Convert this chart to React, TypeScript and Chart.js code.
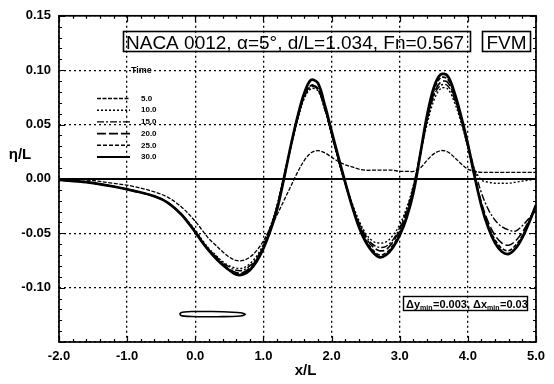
import React, { useEffect, useRef } from "react";
import { Chart, registerables } from "chart.js";

Chart.register(...registerables);

// ---------- data ----------
const X_GRID = [
  -2.0, -1.6, -1.2, -0.9, -0.6, -0.4, -0.2,
  0.0, 0.1, 0.2, 0.3, 0.4, 0.5, 0.6, 0.7, 0.8, 0.9,
  1.0, 1.1, 1.2, 1.3, 1.4, 1.5, 1.6, 1.7, 1.8, 1.9,
  2.0, 2.1, 2.2, 2.3, 2.4, 2.5, 2.6, 2.7, 2.8, 2.9,
  3.0, 3.1, 3.2, 3.3, 3.4, 3.5, 3.6, 3.7, 3.8, 3.9,
  4.0, 4.1, 4.2, 4.3, 4.4, 4.5, 4.6, 4.7, 4.8, 4.9, 5.0,
];

const TIME_LABELS = ["5.0", "10.0", "15.0", "20.0", "25.0", "30.0"];

const T5 = [
  0.0, -0.001, -0.004, -0.007, -0.012, -0.017, -0.026,
  -0.039, -0.047, -0.055, -0.061, -0.067, -0.072, -0.075, -0.075, -0.072, -0.066,
  -0.057, -0.045, -0.033, -0.02, -0.007, 0.006, 0.017, 0.024, 0.026, 0.024,
  0.02, 0.016, 0.013, 0.011, 0.009, 0.008, 0.008, 0.008, 0.008, 0.008,
  0.007, 0.007, 0.007, 0.01, 0.017, 0.023, 0.026, 0.025, 0.02, 0.014,
  0.009, 0.007, 0.006, 0.006, 0.006, 0.006, 0.006, 0.006, 0.006, 0.006, 0.006,
];
const T10 = [
  -0.001, -0.003, -0.007, -0.011, -0.016, -0.022, -0.033,
  -0.047, -0.056, -0.064, -0.07, -0.076, -0.08, -0.082, -0.082, -0.078, -0.071,
  -0.06, -0.044, -0.024, 0.003, 0.03, 0.055, 0.074, 0.083, 0.081, 0.064,
  0.041, 0.018, -0.004, -0.022, -0.038, -0.05, -0.057, -0.059, -0.058, -0.052,
  -0.042, -0.027, -0.006, 0.022, 0.05, 0.072, 0.083, 0.083, 0.071, 0.052,
  0.029, 0.009, -0.001, -0.003, -0.004, -0.004, -0.004, -0.003, -0.002, -0.001, 0.0,
];
const T15 = [
  -0.001, -0.003, -0.007, -0.011, -0.016, -0.022, -0.033,
  -0.048, -0.057, -0.065, -0.071, -0.077, -0.081, -0.084, -0.084, -0.08, -0.073,
  -0.061, -0.045, -0.025, 0.002, 0.029, 0.055, 0.075, 0.085, 0.082, 0.064,
  0.041, 0.017, -0.005, -0.024, -0.04, -0.052, -0.06, -0.063, -0.062, -0.056,
  -0.045, -0.029, -0.007, 0.023, 0.053, 0.076, 0.086, 0.086, 0.074, 0.055,
  0.032, 0.008, -0.013, -0.028, -0.038, -0.044, -0.047, -0.048, -0.043, -0.036, -0.029,
];
const T20 = [
  -0.001, -0.003, -0.007, -0.011, -0.016, -0.022, -0.033,
  -0.049, -0.058, -0.066, -0.072, -0.078, -0.083, -0.086, -0.086, -0.082, -0.074,
  -0.062, -0.046, -0.026, 0.001, 0.029, 0.055, 0.076, 0.086, 0.083, 0.065,
  0.042, 0.018, -0.004, -0.024, -0.041, -0.054, -0.062, -0.066, -0.065, -0.058,
  -0.047, -0.031, -0.009, 0.022, 0.054, 0.078, 0.089, 0.089, 0.076, 0.055,
  0.03, 0.003, -0.022, -0.04, -0.052, -0.059, -0.061, -0.057, -0.049, -0.038, -0.025,
];
const T25 = [
  -0.001, -0.003, -0.007, -0.011, -0.016, -0.022, -0.033,
  -0.049, -0.058, -0.066, -0.073, -0.079, -0.084, -0.087, -0.087, -0.083, -0.075,
  -0.063, -0.047, -0.027, 0.0, 0.029, 0.055, 0.076, 0.086, 0.083, 0.065,
  0.042, 0.019, -0.003, -0.024, -0.042, -0.056, -0.065, -0.07, -0.068, -0.061,
  -0.05, -0.034, -0.011, 0.022, 0.056, 0.081, 0.093, 0.092, 0.078, 0.056,
  0.031, 0.002, -0.024, -0.043, -0.056, -0.064, -0.066, -0.061, -0.052, -0.039, -0.024,
];
const T30 = [
  -0.001, -0.003, -0.007, -0.011, -0.016, -0.022, -0.033,
  -0.049, -0.058, -0.066, -0.073, -0.079, -0.084, -0.088, -0.088, -0.084, -0.076,
  -0.064, -0.048, -0.028, 0.0, 0.03, 0.057, 0.079, 0.091, 0.088, 0.068,
  0.044, 0.02, -0.003, -0.025, -0.044, -0.058, -0.067, -0.072, -0.07, -0.063,
  -0.052, -0.036, -0.013, 0.022, 0.058, 0.084, 0.096, 0.095, 0.08, 0.058,
  0.032, 0.002, -0.025, -0.045, -0.059, -0.067, -0.069, -0.064, -0.054, -0.04, -0.024,
];

// hydrofoil outline (flat elongated section drawn under the plot)
const FOIL_X = [-0.23, -0.21, -0.16, -0.05, 0.1, 0.25, 0.4, 0.55, 0.66, 0.71, 0.73];
const FOIL_UP = [-0.1243, -0.1230, -0.1224, -0.1220, -0.1219, -0.1220, -0.1222, -0.1226, -0.1231, -0.1237, -0.1245];
const FOIL_LO = [-0.1243, -0.1256, -0.1262, -0.1266, -0.1268, -0.1268, -0.1267, -0.1265, -0.1261, -0.1255, -0.1245];

const X_TICKS = [-2, -1, 0, 1, 2, 3, 4, 5];
const Y_TICKS = [-0.15, -0.1, -0.05, 0, 0.05, 0.1, 0.15];
const Y_LABELED = [-0.1, -0.05, 0, 0.05, 0.1, 0.15];

const TITLE = "NACA 0012, \u03b1=5\u00b0, d/L=1.034, Fn=0.567";
const METHOD = "FVM";

// ---------- styles ----------
const SERIES = [T5, T10, T15, T20, T25, T30];
const STYLES = [
  { dash: [4, 1.5], width: 1.3 },
  { dash: [2, 2], width: 1.4 },
  { dash: [7, 2, 2, 2], width: 1.4 },
  { dash: [9, 3], width: 1.6 },
  { dash: [4, 2], width: 1.6 },
  { dash: [], width: 2.7 },
];
const FONT = "'Liberation Sans', Arial, sans-serif";

const decor = {
  id: "decor",
  afterDraw(chart: any) {
    const { ctx, chartArea: a, scales } = chart;
    const xs = scales.x;
    const ys = scales.y;
    ctx.save();
    ctx.strokeStyle = "#000";
    ctx.fillStyle = "#000";
    ctx.setLineDash([]);
    // frame
    ctx.lineWidth = 1.7;
    ctx.strokeRect(a.left, a.top, a.right - a.left, a.bottom - a.top);
    // minor / major tick marks (inward)
    ctx.lineWidth = 1.2;
    ctx.beginPath();
    for (let k = -20; k <= 50; k += 2) {
      const px = Math.round(xs.getPixelForValue(k / 10)) + 0.5;
      const len = k % 10 === 0 ? 6 : 3;
      ctx.moveTo(px, a.bottom);
      ctx.lineTo(px, a.bottom - len);
      ctx.moveTo(px, a.top);
      ctx.lineTo(px, a.top + len);
    }
    for (let k = -15; k <= 15; k++) {
      const py = Math.round(ys.getPixelForValue(k / 100)) + 0.5;
      const len = k % 5 === 0 ? 6 : 3;
      ctx.moveTo(a.left, py);
      ctx.lineTo(a.left + len, py);
      ctx.moveTo(a.right, py);
      ctx.lineTo(a.right - len, py);
    }
    ctx.stroke();

    // title box
    ctx.lineWidth = 1.6;
    ctx.strokeRect(123.5, 31.5, 347, 20);
    ctx.font = `19px ${FONT}`;
    ctx.textBaseline = "alphabetic";
    ctx.textAlign = "left";
    ctx.fillText(TITLE, 126, 48.5, 342);
    ctx.strokeRect(482.5, 31.5, 48, 20);
    ctx.textAlign = "center";
    ctx.fillText(METHOD, 506.5, 48.5, 44);

    // grid spacing box
    ctx.lineWidth = 1.4;
    ctx.strokeRect(403.5, 296.5, 124, 14);
    ctx.textAlign = "left";
    const parts: [string, boolean][] = [
      ["\u0394y", false], ["min", true], ["=0.003, \u0394x", false], ["min", true], ["=0.03", false],
    ];
    let tx = 406;
    for (const [s, sub] of parts) {
      ctx.font = sub ? `bold 7px ${FONT}` : `bold 11px ${FONT}`;
      ctx.fillText(s, tx, sub ? 310 : 307.5);
      tx += ctx.measureText(s).width + (sub ? 0.5 : 0);
    }

    // legend
    ctx.font = `bold 9px ${FONT}`;
    ctx.textBaseline = "middle";
    ctx.fillText("Time", 131, 71);
    ctx.font = `bold 8px ${FONT}`;
    for (let i = 0; i < TIME_LABELS.length; i++) {
      const yy = 98.5 + i * 11.7;
      ctx.setLineDash(STYLES[i].dash);
      ctx.lineWidth = Math.min(STYLES[i].width, 2);
      ctx.beginPath();
      ctx.moveTo(97, yy);
      ctx.lineTo(130, yy);
      ctx.stroke();
      ctx.setLineDash([]);
      ctx.fillText(TIME_LABELS[i], 141, yy);
    }

    // axis titles
    ctx.font = `bold 15px ${FONT}`;
    ctx.textAlign = "center";
    ctx.fillText("\u03b7/L", 20, 155);
    ctx.fillText("x/L", (a.left + a.right) / 2 + 8, 371);
    ctx.restore();
  },
};

export default function App() {
  const ref = useRef<HTMLCanvasElement | null>(null);
  useEffect(() => {
    document.body.style.margin = "0";
    const canvas = ref.current;
    if (!canvas) return;
    const datasets: any[] = SERIES.map((ys, i) => ({
      label: TIME_LABELS[i],
      data: X_GRID.map((x, j) => ({ x, y: ys[j] })),
      borderColor: "#000",
      borderWidth: STYLES[i].width,
      borderDash: STYLES[i].dash,
      pointRadius: 0,
      tension: 0.35,
      fill: false,
    }));
    datasets.unshift({
      label: "zero",
      data: [{ x: -2, y: 0 }, { x: 5, y: 0 }],
      borderColor: "#000",
      borderWidth: 2,
      pointRadius: 0,
      fill: false,
    });
    const foil = [
      ...FOIL_X.map((x, j) => ({ x, y: FOIL_UP[j] })),
      ...FOIL_X.slice().reverse().map((x, j) => ({ x, y: FOIL_LO[FOIL_LO.length - 1 - j] })),
    ];
    datasets.push({
      label: "foil",
      data: foil,
      borderColor: "#000",
      borderWidth: 1.6,
      pointRadius: 0,
      tension: 0.3,
      fill: false,
    });

    const chart = new Chart(canvas, {
      type: "line",
      data: { datasets },
      options: {
        animation: false,
        responsive: false,
        devicePixelRatio: 1,
        layout: { padding: { top: 13, right: 18, left: 0, bottom: 0 } },
        plugins: { legend: { display: false }, tooltip: { enabled: false } },
        scales: {
          x: {
            type: "linear",
            min: -2,
            max: 5,
            afterBuildTicks: (s: any) => {
              s.ticks = X_TICKS.map((v) => ({ value: v }));
            },
            afterFit: (s: any) => {
              s.height = 42;
            },
            ticks: {
              callback: (v: any) => Number(v).toFixed(1),
              font: { family: FONT, size: 13, weight: "bold" },
              color: "#000",
              padding: 7,
              maxRotation: 0,
              autoSkip: false,
            },
            grid: { color: "#000", lineWidth: 1.3, drawTicks: false },
            border: { display: false, dash: [2, 3] },
          },
          y: {
            type: "linear",
            min: -0.15,
            max: 0.15,
            afterBuildTicks: (s: any) => {
              s.ticks = Y_TICKS.map((v) => ({ value: v }));
            },
            afterFit: (s: any) => {
              s.width = 59;
            },
            ticks: {
              callback: (v: any) => {
                const n = Number(v);
                return Y_LABELED.some((t) => Math.abs(t - n) < 1e-9) ? (Math.abs(n) < 1e-9 ? "0.00" : n.toFixed(2)) : "";
              },
              font: { family: FONT, size: 13, weight: "bold" },
              color: "#000",
              padding: 8,
              autoSkip: false,
            },
            grid: { color: "#000", lineWidth: 1.3, drawTicks: false },
            border: { display: false, dash: [2, 3] },
          },
        },
      },
      plugins: [decor],
    });
    return () => chart.destroy();
  }, []);
  return (
    <div style={{ width: 554, height: 384, background: "#fff" }}>
      <canvas ref={ref} width={554} height={384} style={{ display: "block", width: 554, height: 384 }} />
    </div>
  );
}
